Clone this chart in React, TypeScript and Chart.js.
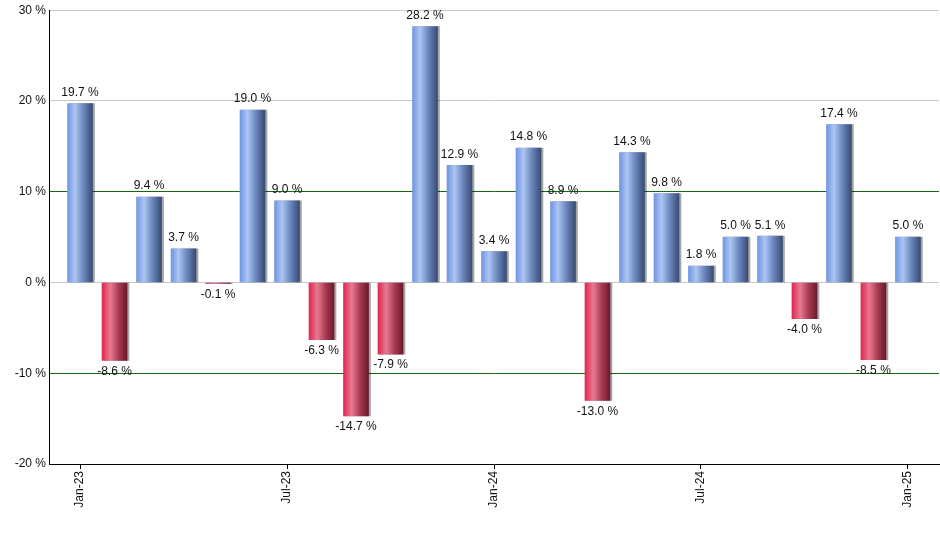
import React, { useEffect, useRef } from "react";
import { Chart, registerables } from "chart.js";

Chart.register(...registerables);

const months = [
  "Jan-23", "Feb-23", "Mar-23", "Apr-23", "May-23", "Jun-23", "Jul-23", "Aug-23", "Sep-23", "Oct-23", "Nov-23", "Dec-23",
  "Jan-24", "Feb-24", "Mar-24", "Apr-24", "May-24", "Jun-24", "Jul-24", "Aug-24", "Sep-24", "Oct-24", "Nov-24", "Dec-24",
  "Jan-25",
];
const returns = [
  19.7, -8.6, 9.4, 3.7, -0.1, 19.0, 9.0, -6.3, -14.7, -7.9, 28.2, 12.9,
  3.4, 14.8, 8.9, -13.0, 14.3, 9.8, 1.8, 5.0, 5.1, -4.0, 17.4, -8.5,
  5.0,
];
const tickIndexes = [0, 6, 12, 18, 24];
const yTicks = [-20, -10, 0, 10, 20, 30];

const FONT = "'Liberation Sans', Arial, sans-serif";
const BAR_W = 25;

export default function App() {
  const ref = useRef<HTMLCanvasElement | null>(null);

  useEffect(() => {
    if (!ref.current) return;

    const shadowPlugin = {
      id: "barShadow",
      beforeDatasetsDraw(chart: any) {
        const ctx = chart.ctx;
        ctx.save();
        ctx.shadowColor = "rgba(0,0,0,0.35)";
        ctx.shadowOffsetX = 2;
        ctx.shadowOffsetY = 0;
        ctx.shadowBlur = 0;
      },
      afterDatasetsDraw(chart: any) {
        chart.ctx.restore();
      },
    };

    const labelPlugin = {
      id: "valueLabels",
      afterDatasetsDraw(chart: any) {
        const ctx = chart.ctx;
        const meta = chart.getDatasetMeta(0);
        ctx.save();
        ctx.font = `12px ${FONT}`;
        ctx.fillStyle = "#111";
        ctx.textAlign = "center";
        meta.data.forEach((el: any, i: number) => {
          const v = returns[i];
          const txt = `${v.toFixed(1)} %`;
          if (v >= 0) {
            ctx.textBaseline = "bottom";
            ctx.fillText(txt, el.x, el.y - 5);
          } else {
            ctx.textBaseline = "top";
            ctx.fillText(txt, el.x, el.y + 5);
          }
        });
        ctx.restore();
      },
    };

    const chart = new Chart(ref.current, {
      type: "bar",
      data: {
        datasets: [
          {
            data: returns.map((v, i) => ({ x: i, y: v })),
            barThickness: BAR_W,
            borderWidth: 0,
            backgroundColor: (context: any) => {
              const ch = context.chart;
              const xs = ch.scales?.x;
              const v = returns[context.dataIndex];
              const fallback = v < 0 ? "#d63a5c" : "#7fa0e6";
              if (!xs || v === undefined) return fallback;
              const cx = xs.getPixelForValue(context.dataIndex);
              if (!Number.isFinite(cx)) return fallback;
              const x0 = cx - BAR_W / 2;
              const x1 = cx + BAR_W / 2;
              const g = ch.ctx.createLinearGradient(x0, 0, x1, 0);
              if (v >= 0) {
                g.addColorStop(0, "rgb(112,150,228)");
                g.addColorStop(0.3, "rgb(172,198,242)");
                g.addColorStop(0.6, "rgb(112,140,195)");
                g.addColorStop(1, "rgb(56,76,116)");
              } else {
                g.addColorStop(0, "rgb(222,40,82)");
                g.addColorStop(0.33, "rgb(232,122,144)");
                g.addColorStop(0.65, "rgb(170,60,85)");
                g.addColorStop(1, "rgb(108,24,44)");
              }
              return g;
            },
          },
        ],
      },
      options: {
        animation: false,
        responsive: false,
        maintainAspectRatio: false,
        layout: { padding: { top: 9, right: 1, left: 0, bottom: 0 } },
        plugins: {
          legend: { display: false },
          tooltip: { enabled: false },
        },
        scales: {
          x: {
            type: "linear",
            offset: false,
            min: -0.9,
            max: 24.9,
            afterBuildTicks: (scale: any) => {
              scale.ticks = tickIndexes.map((v) => ({ value: v }));
            },
            afterFit: (scale: any) => {
              scale.height = 86;
            },
            ticks: {
              autoSkip: false,
              minRotation: 90,
              maxRotation: 90,
              padding: 2,
              color: "#111",
              font: { family: FONT, size: 12 },
              callback: (v: any) => months[Number(v)] ?? "",
            },
            grid: {
              offset: false,
              drawOnChartArea: false,
              drawTicks: true,
              tickLength: 5,
              color: "#000",
            },
            border: { display: true, color: "#000", width: 1 },
          },
          y: {
            min: -20,
            max: 30,
            afterBuildTicks: (scale: any) => {
              scale.ticks = yTicks.map((v) => ({ value: v }));
            },
            afterFit: (scale: any) => {
              scale.width = 49;
            },
            ticks: {
              padding: 3,
              color: "#111",
              font: { family: FONT, size: 12 },
              callback: (v: any) => `${v} %`,
            },
            grid: {
              drawTicks: false,
              color: (ctx: any) => {
                const v = ctx.tick?.value;
                if (v === 10 || v === -10) return "rgb(20,105,20)";
                if (v === -20) return "rgba(0,0,0,0)";
                return "#c8c8c8";
              },
              lineWidth: 1,
            },
            border: { display: true, color: "#000", width: 1 },
          },
        },
      },
      plugins: [shadowPlugin, labelPlugin],
    } as any);

    return () => chart.destroy();
  }, []);

  return (
    <div style={{ position: "fixed", left: 0, top: 0, width: 940, height: 550, background: "#fff" }}>
      <canvas ref={ref} width={940} height={550} style={{ width: 940, height: 550, display: "block" }} />
    </div>
  );
}
